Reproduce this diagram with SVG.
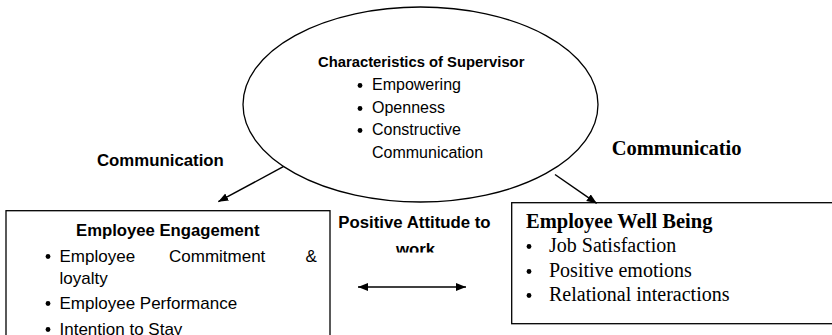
<svg xmlns="http://www.w3.org/2000/svg" width="832" height="335" viewBox="0 0 832 335">
  <style>
    .shape { fill: #ffffff; stroke: #000000; stroke-width: 1.3; }
    .sans { font-family: "Liberation Sans", Arial, sans-serif; fill: #000; }
    .serif { font-family: "Liberation Serif", "Times New Roman", serif; fill: #000; }
    .b { font-weight: bold; }
    .conn { stroke: #000; stroke-width: 1.5; fill: none; }
    .dot { fill: #000; }
  </style>
  <defs>
    <marker id="ah" markerUnits="userSpaceOnUse" markerWidth="11" markerHeight="9" refX="10" refY="4" orient="auto-start-reverse" viewBox="0 0 11 9">
      <path d="M0,0 L10,4 L0,8 z" fill="#000"/>
    </marker>
    <clipPath id="clipWork">
      <rect x="330" y="200" width="180" height="52.5"/>
    </clipPath>
  </defs>
  <rect x="0" y="0" width="832" height="335" fill="#ffffff"/>

  <g id="supervisor">
    <ellipse class="shape" cx="420.5" cy="104.5" rx="177.5" ry="97.5"/>
    <text class="sans b" x="318" y="67" font-size="14.8">Characteristics of Supervisor</text>
    <circle class="dot" cx="360" cy="85.5" r="2.4"/>
    <text class="sans" x="372" y="90" font-size="16">Empowering</text>
    <circle class="dot" cx="360" cy="108.5" r="2.4"/>
    <text class="sans" x="372" y="113" font-size="16">Openness</text>
    <circle class="dot" cx="360" cy="130.5" r="2.4"/>
    <text class="sans" x="372" y="135" font-size="16">Constructive</text>
    <text class="sans" x="372" y="157.5" font-size="16">Communication</text>
  </g>

  <g id="engagement">
    <rect class="shape" x="6" y="210.7" width="324" height="140"/>
    <text class="sans b" x="76" y="235.5" font-size="16.7">Employee Engagement</text>
    <circle class="dot" cx="48" cy="256.5" r="2.4"/>
    <text class="sans" y="261.5" font-size="17"><tspan x="59.5">Employee</tspan><tspan x="169">Commitment</tspan><tspan x="305.5">&amp;</tspan></text>
    <text class="sans" x="59.5" y="283.5" font-size="17">loyalty</text>
    <circle class="dot" cx="48" cy="303.5" r="2.4"/>
    <text class="sans" x="59.5" y="308.5" font-size="17">Employee Performance</text>
    <circle class="dot" cx="48" cy="329.5" r="2.4"/>
    <text class="sans" x="59.5" y="334.5" font-size="17">Intention to Stay</text>
  </g>

  <g id="wellbeing">
    <rect class="shape" x="511.7" y="202.7" width="340" height="121"/>
    <text class="serif b" x="526" y="227.5" font-size="20.5">Employee Well Being</text>
    <circle class="dot" cx="529" cy="246.5" r="2.4"/>
    <text class="serif" x="549" y="252" font-size="20">Job Satisfaction</text>
    <circle class="dot" cx="529" cy="271.5" r="2.4"/>
    <text class="serif" x="549" y="277" font-size="20">Positive emotions</text>
    <circle class="dot" cx="529" cy="295.5" r="2.4"/>
    <text class="serif" x="549" y="301" font-size="20">Relational interactions</text>
  </g>

  <g id="connectors">
    <line class="conn" x1="283.3" y1="166.7" x2="218.3" y2="201.7" marker-end="url(#ah)"/>
    <line class="conn" x1="555" y1="174.5" x2="596.7" y2="203.3" marker-end="url(#ah)"/>
    <line class="conn" x1="358" y1="287" x2="466" y2="287" marker-start="url(#ah)" marker-end="url(#ah)"/>
  </g>

  <g id="labels">
    <text class="sans b" x="97" y="165.7" font-size="16.8">Communication</text>
    <text class="serif b" x="611.7" y="155" font-size="20.5">Communicatio</text>
    <text class="sans b" x="338.3" y="228.3" font-size="16.8">Positive Attitude to</text>
    <text class="sans b" x="396" y="254.5" font-size="16.8" clip-path="url(#clipWork)">work</text>
  </g>
</svg>
